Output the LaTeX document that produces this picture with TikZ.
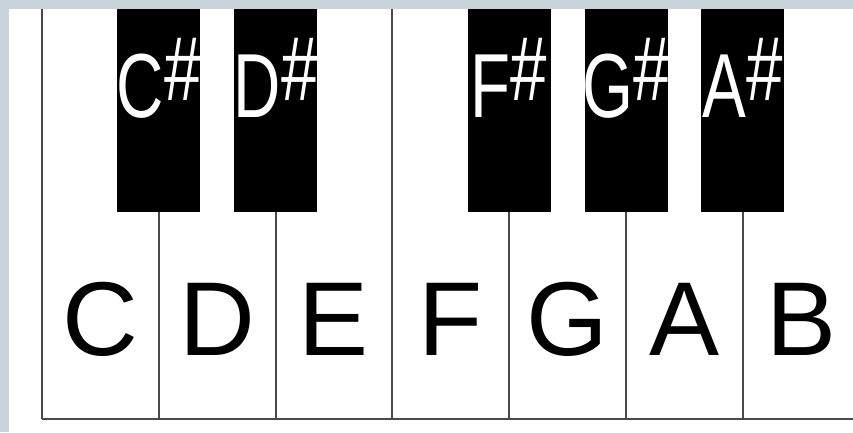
\documentclass[tikz,border=0pt]{standalone}
\usepackage{fontspec}
\setmainfont{Liberation Sans}
\usetikzlibrary{positioning}
\definecolor{bgpanel}{HTML}{C8D3DA}
\definecolor{keyline}{HTML}{4A4A4A}
\tikzset{
  wlab/.style={font=\fontsize{105}{105}\selectfont,anchor=base,inner sep=0pt},
  blab/.style={font=\fontsize{91}{91}\selectfont,text=white,anchor=base,inner sep=0pt},
  kline/.style={draw=keyline,line width=2pt},
}
\newcommand{\sharpname}[1]{\scalebox{0.72}[1]{#1\raisebox{17pt}{\#}}}
\begin{document}
\begin{tikzpicture}[x=1pt,y=-1pt]
\useasboundingbox (0,0) rectangle (853,432);
\fill[bgpanel] (0,0) rectangle (853,432);
\fill[white] (9,9) rectangle (853,432);
% white keys
\foreach \n [count=\i from 0] in {C,D,E,F,G,A,B}
  \node[wlab] (w\n) at ({42+116.8*\i+58.4},355) {\n};
\foreach \i in {0,...,6}
  \draw[kline] ({42+116.8*\i},9) -- ({42+116.8*\i},419);
\draw[kline] (42,419) -- (853,419);
% black keys
\foreach \n/\i in {C/1,D/2,F/4,G/5,A/6} {
  \fill[black] ({42+116.8*\i-41.5},9) rectangle ({42+116.8*\i+41.5},212);
  \node[blab] (b\n) at ({42+116.8*\i},117) {\sharpname{\n}};
}
\end{tikzpicture}
\end{document}
